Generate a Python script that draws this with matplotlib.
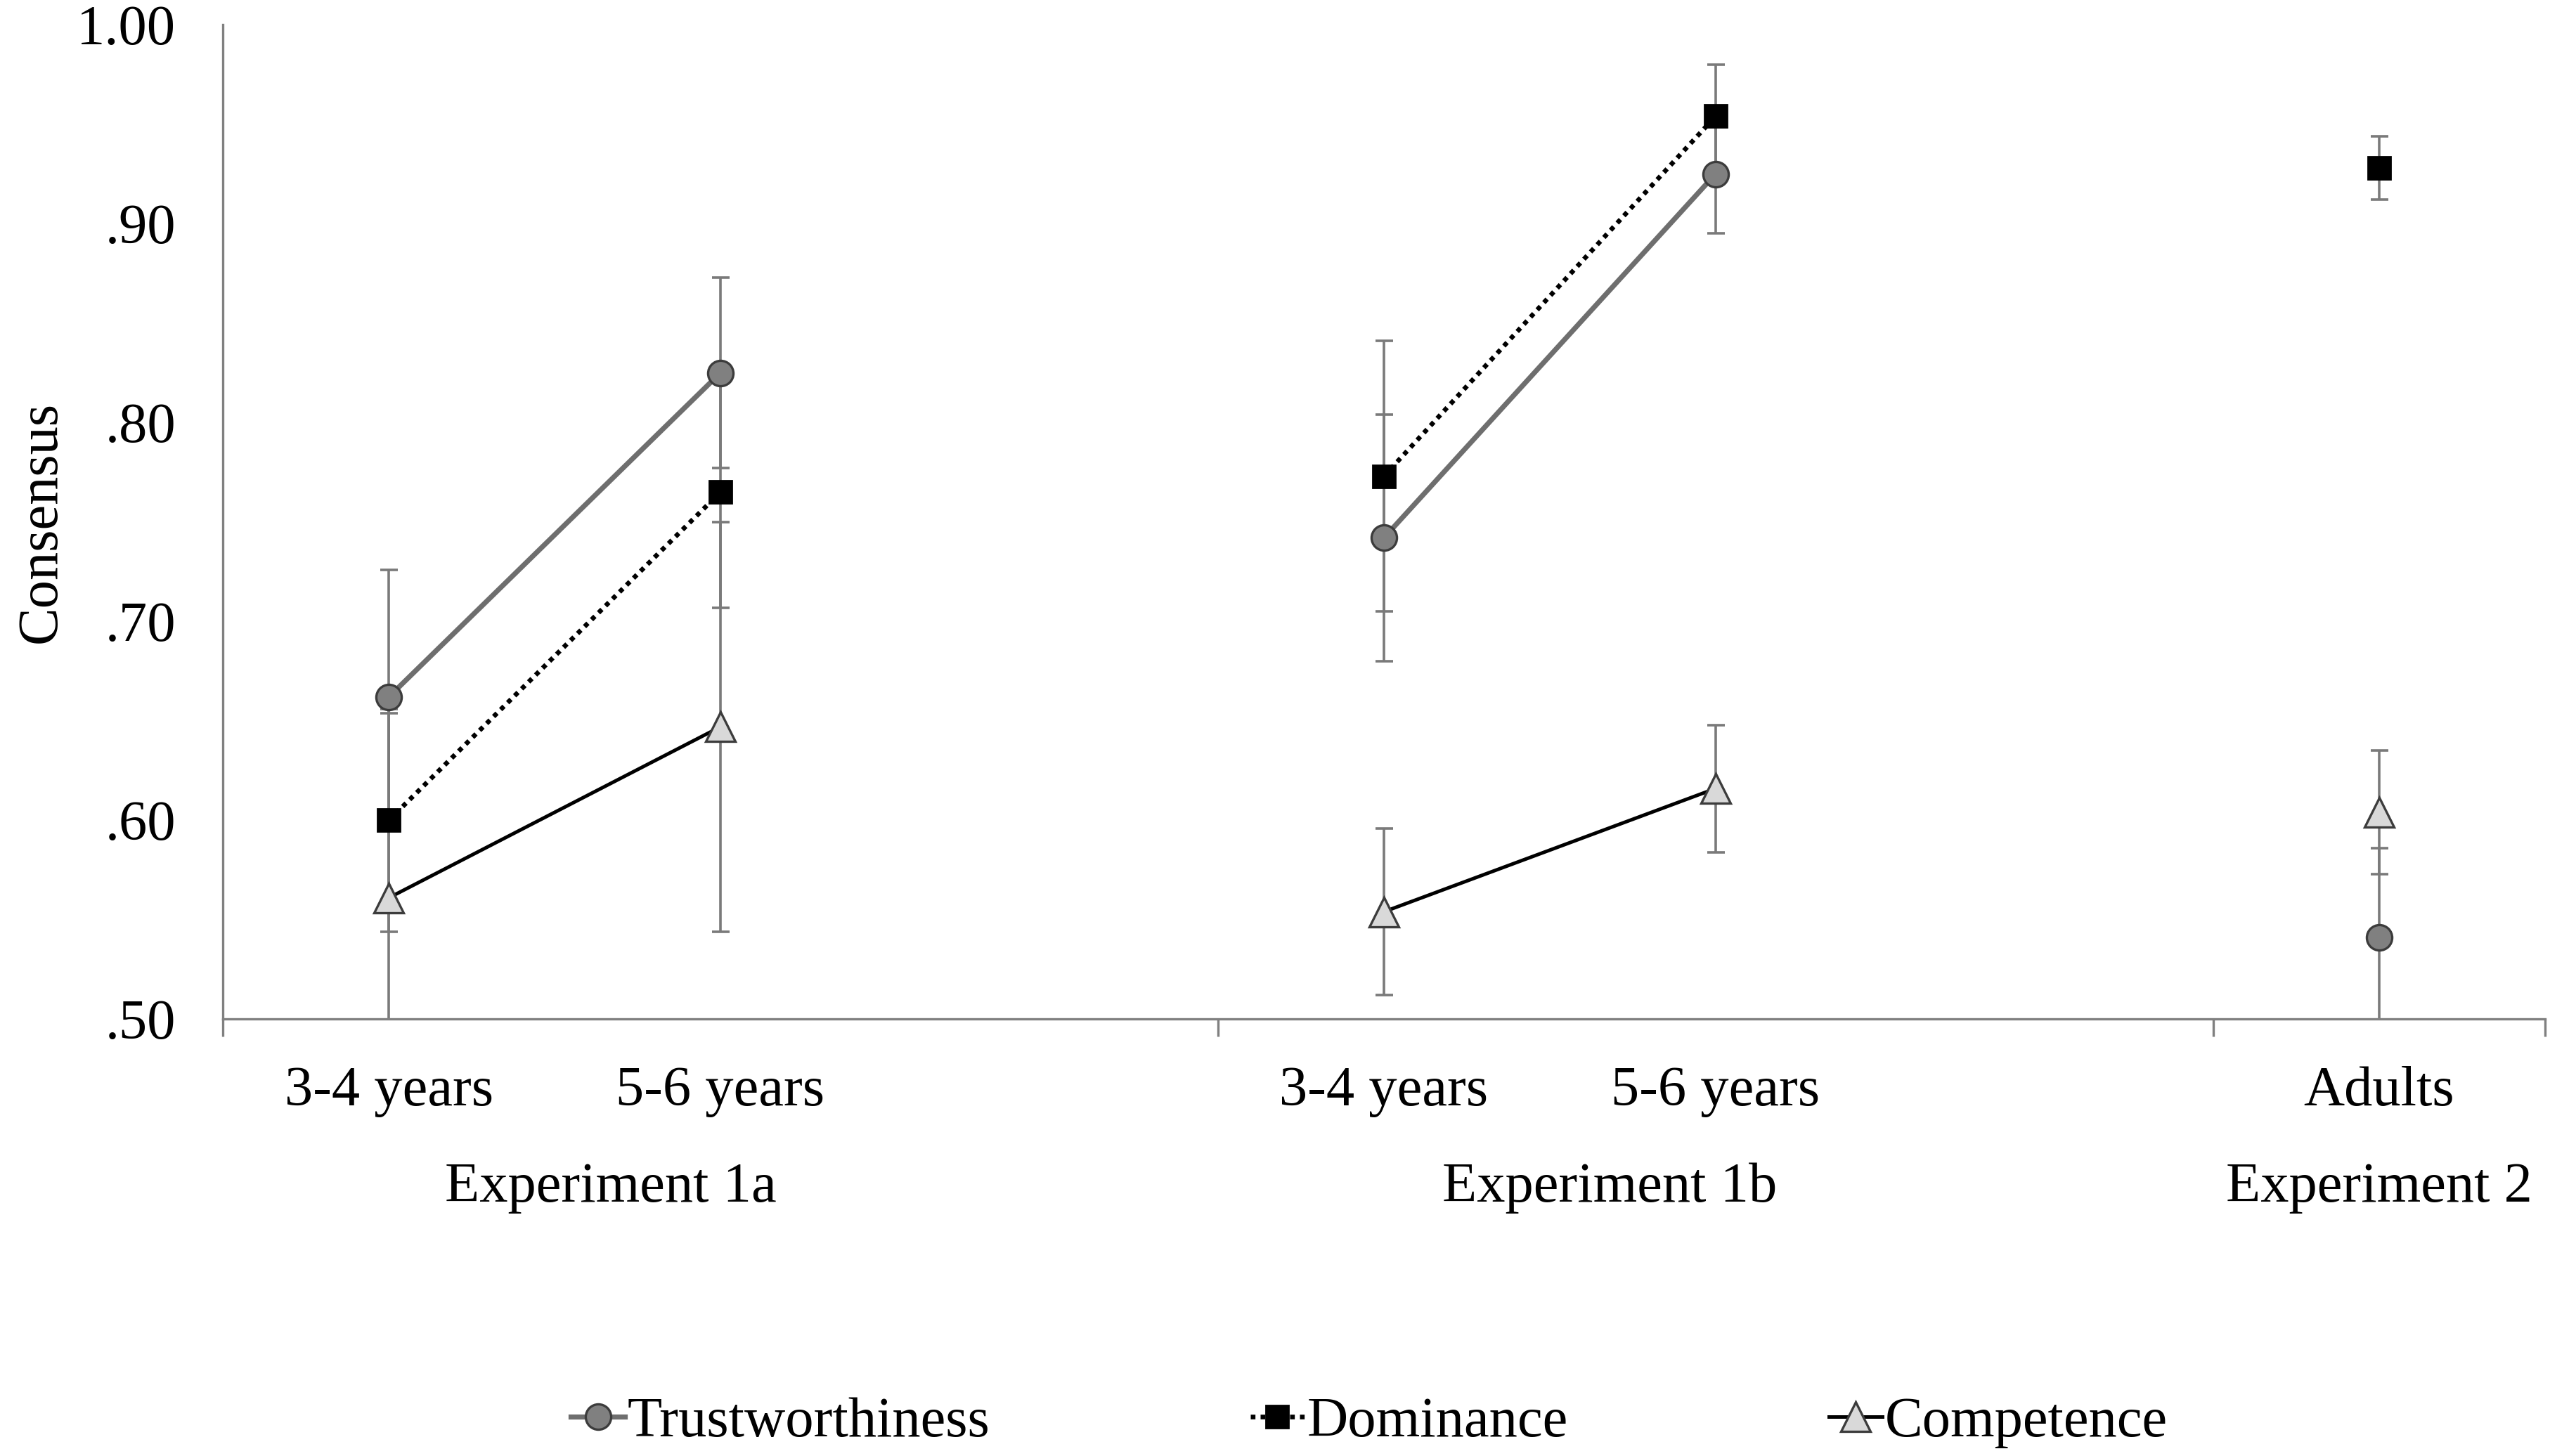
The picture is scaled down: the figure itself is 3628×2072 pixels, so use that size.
import numpy as np
import matplotlib.pyplot as plt
from matplotlib.transforms import blended_transform_factory

plt.rcParams['font.family'] = ['Liberation Serif', 'DejaVu Serif']
plt.rcParams['font.size'] = 29

# Excel-style category slots: two age groups, a blank gap, two age groups, a gap, adults
slot_labels = ['3-4 years', '5-6 years', '', '3-4 years', '5-6 years', '', 'Adults']
groups = ['Experiment 1a', 'Experiment 1b', 'Experiment 2']
group_pos = [0.67, 3.68, 6.0]

nan = np.nan
trust = [0.662, 0.825, nan, 0.742, 0.925, nan, 0.541]
trust_err = [0.064, 0.048, nan, 0.062, 0.030, nan, 0.045]
dominance = [0.600, 0.765, nan, 0.773, 0.954, nan, 0.928]
dominance_err = [0.056, 0.058, nan, 0.068, 0.026, nan, 0.016]
competence = [0.561, 0.647, nan, 0.554, 0.616, nan, 0.604]
competence_err = [0.093, 0.103, nan, 0.042, 0.032, nan, 0.031]

x = np.arange(len(slot_labels))

fig = plt.figure(figsize=(18.14, 10.36), dpi=200)
ax = fig.add_axes([0.0874, 0.300, 0.9106, 0.683])

series = [
    ('Trustworthiness', trust, trust_err,
     dict(color='#6e6e6e', lw=2.6, ls='-', marker='o', ms=13,
          mfc='#808080', mec='#3c3c3c', mew=1.2)),
    ('Dominance', dominance, dominance_err,
     dict(color='black', lw=2.4, ls=(0, (1, 1.1)), marker='s', ms=11.5,
          mfc='black', mec='black', mew=1.0)),
    ('Competence', competence, competence_err,
     dict(color='black', lw=1.8, ls='-', marker='^', ms=15,
          mfc='#d9d9d9', mec='#3c3c3c', mew=1.2)),
]

for name, vals, errs, style in series:
    ax.errorbar(x, vals, yerr=errs, fmt='none', ecolor='#7a7a7a',
                elinewidth=1.3, capsize=4.5, capthick=1.3, zorder=2)
for name, vals, errs, style in series:
    ax.plot(x, vals, label=name, zorder=3, **style)

ax.set_xlim(-0.5, 6.5)
ax.set_ylim(0.5, 1.0)
ax.set_yticks([0.5, 0.6, 0.7, 0.8, 0.9, 1.0])
ax.set_yticklabels(['.50', '.60', '.70', '.80', '.90', '1.00'])
ax.tick_params(axis='y', length=0, pad=24)

ax.set_xticks([i for i, s in enumerate(slot_labels) if s])
ax.set_xticklabels([s for s in slot_labels if s])
ax.set_xticks([-0.5, 2.5, 5.5, 6.5], minor=True)
ax.tick_params(axis='x', which='major', length=0, pad=24)
ax.tick_params(axis='x', which='minor', length=9, width=1.2, color='#808080')

for side in ['top', 'right']:
    ax.spines[side].set_visible(False)
for side in ['left', 'bottom']:
    ax.spines[side].set_color('#808080')
    ax.spines[side].set_linewidth(1.2)

trans = blended_transform_factory(ax.transData, ax.transAxes)
for label, pos in zip(groups, group_pos):
    ax.text(pos, -0.17, label, transform=trans, ha='center', va='center')

ax.set_ylabel('Consensus')
ax.yaxis.set_label_coords(-0.067, 0.5)

fig.legend(loc='center', bbox_to_anchor=(0.537, 0.023), ncol=3, frameon=False,
           handlelength=0.95, handletextpad=0.05, columnspacing=4.6)

fig.savefig('out.png', dpi=200)
